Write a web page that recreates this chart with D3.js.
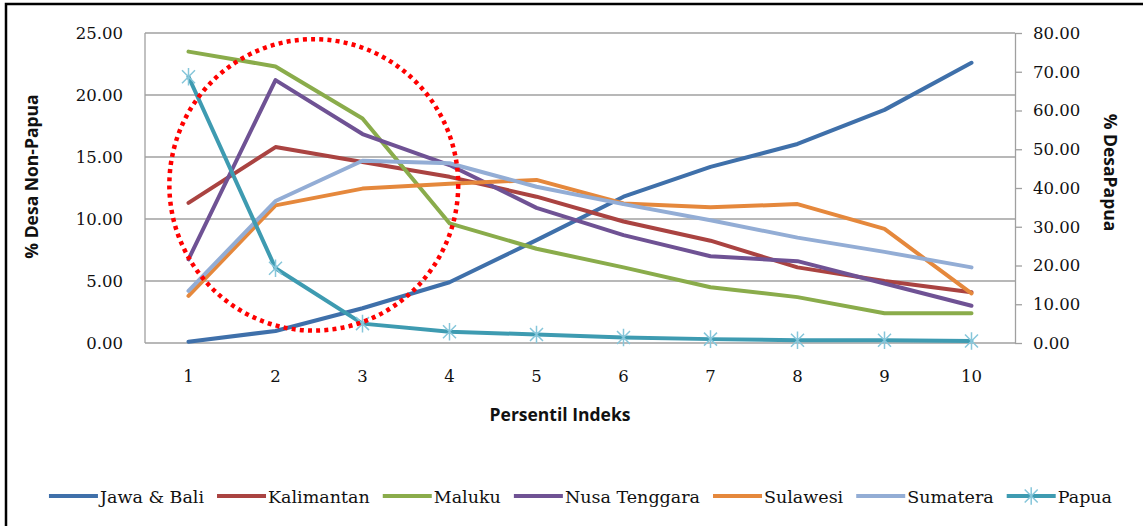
<!DOCTYPE html>
<html><head><meta charset="utf-8">
<script src="https://cdn.jsdelivr.net/npm/d3@7"></script>
<style>body{margin:0;background:#fff}svg{display:block}</style>
</head><body>
<svg id="chart" width="1143" height="526"></svg>
<script>
const categories = [1,2,3,4,5,6,7,8,9,10];
const jawaBali     = [0.1, 0.97, 2.8, 4.9, 8.3, 11.8, 14.2, 16.05, 18.8, 22.6];
const kalimantan   = [11.3, 15.8, 14.6, 13.4, 11.8, 9.8, 8.25, 6.1, 5.0, 4.1];
const maluku       = [23.5, 22.3, 18.1, 9.65, 7.6, 6.1, 4.5, 3.7, 2.4, 2.4];
const nusaTenggara = [6.75, 21.2, 16.85, 14.35, 10.9, 8.7, 7.0, 6.6, 4.8, 3.0];
const sulawesi     = [3.8, 11.1, 12.45, 12.85, 13.15, 11.25, 10.95, 11.2, 9.2, 4.0];
const sumatera     = [4.2, 11.45, 14.7, 14.5, 12.6, 11.2, 9.9, 8.5, 7.35, 6.1];
const papua        = [68.7, 19.3, 5.0, 2.9, 2.2, 1.4, 1.0, 0.7, 0.7, 0.5];
const leftTicks  = [0, 5, 10, 15, 20, 25];
const rightTicks = [0, 10, 20, 30, 40, 50, 60, 70, 80];
const seriesNames  = ["Jawa & Bali","Kalimantan","Maluku","Nusa Tenggara","Sulawesi","Sumatera","Papua"];
const seriesValues = [jawaBali, kalimantan, maluku, nusaTenggara, sulawesi, sumatera, papua];
const seriesColors = ["#3f70aa","#aa4341","#8aac4b","#6f5294","#e5883c","#93add5","#3e9bb1"];
const seriesAxis   = ["left","left","left","left","left","left","right"];
// annotation ellipse in data units (category, left-axis value)
const highlight = {cx: 2.44, cy: 12.75, rx: 1.66, ry: 11.75};

const svg = d3.select("#chart");
const m = {left:145, right:1015, top:33, bottom:343};

// frame
svg.append("path").attr("d","M6,526 V4 H1143").attr("fill","none").attr("stroke","#000").attr("stroke-width",2.5);

const x = d3.scaleBand().domain(categories).range([m.left, m.right]);
const xc = d => x(d) + x.bandwidth()/2;
const xl = d3.scaleLinear().domain([0.5, 10.5]).range([m.left, m.right]);
const yL = d3.scaleLinear().domain([0,25]).range([m.bottom, m.top]);
const yR = d3.scaleLinear().domain([0,80]).range([m.bottom, m.top]);

// gridlines
svg.append("g").selectAll("line").data(leftTicks).join("line")
  .attr("x1", m.left).attr("x2", m.right)
  .attr("y1", d=>yL(d)).attr("y2", d=>yL(d))
  .attr("stroke","#a0a0a0").attr("stroke-width",1.3);
// left axis line
svg.append("line").attr("x1",m.left).attr("x2",m.left).attr("y1",m.top).attr("y2",m.bottom).attr("stroke","#a0a0a0").attr("stroke-width",1.3);

const tickFont = "'DejaVu Serif', serif";
// left axis
const gL = svg.append("g").attr("transform",`translate(${m.left},0)`)
  .call(d3.axisLeft(yL).tickValues(leftTicks).tickFormat(d3.format(".2f")).tickSize(0).tickPadding(22));
gL.select(".domain").remove();
gL.selectAll("text").attr("font-family",tickFont).attr("font-size",16.5).attr("fill","#111");

// right axis
const gR = svg.append("g").attr("transform",`translate(${m.right},0)`)
  .call(d3.axisRight(yR).tickValues(rightTicks).tickFormat(d3.format(".2f")).tickSize(7).tickSizeOuter(0).tickPadding(11));
gR.select(".domain").attr("stroke","#a0a0a0").attr("stroke-width",1.3);
gR.selectAll(".tick line").attr("stroke","#a0a0a0").attr("stroke-width",1.3);
gR.selectAll("text").attr("font-family",tickFont).attr("font-size",16.5).attr("fill","#111");

// x axis
const gX = svg.append("g").attr("transform",`translate(0,${m.bottom})`)
  .call(d3.axisBottom(x).tickSize(0).tickPadding(27));
gX.select(".domain").remove();
gX.selectAll("text").attr("font-family",tickFont).attr("font-size",16.5).attr("fill","#111");

// axis titles
const titleFont = "'Open Sans', sans-serif";
svg.append("text").attr("transform",`translate(38,176.5) rotate(-90)`).attr("text-anchor","middle")
  .attr("font-family",titleFont).attr("font-weight","bold").attr("font-size",17.5).attr("fill","#111").text("% Desa Non-Papua");
svg.append("text").attr("transform",`translate(1104,172.5) rotate(90)`).attr("text-anchor","middle")
  .attr("font-family",titleFont).attr("font-weight","bold").attr("font-size",17.5).attr("fill","#111").text("% DesaPapua");
svg.append("text").attr("x",560).attr("y",421).attr("text-anchor","middle")
  .attr("font-family",titleFont).attr("font-weight","bold").attr("font-size",17.5).attr("fill","#111").text("Persentil Indeks");

// lines
const starPath = s => `M${-s},${-s}L${s},${s}M${-s},${s}L${s},${-s}M0,${-s*1.35}L0,${s*1.35}`;
seriesValues.forEach((vals,i)=>{
  const yS = seriesAxis[i]==="left" ? yL : yR;
  const line = d3.line().x((d,j)=>xc(categories[j])).y(d=>yS(d));
  svg.append("path").datum(vals).attr("d",line).attr("fill","none")
    .attr("stroke",seriesColors[i]).attr("stroke-width",4).attr("stroke-linejoin","round").attr("stroke-linecap","round");
  if (seriesNames[i]==="Papua") {
    svg.append("g").selectAll("path").data(vals).join("path")
      .attr("transform",(d,j)=>`translate(${xc(categories[j])},${yS(d)})`)
      .attr("d",starPath(6.5)).attr("stroke","#86c6da").attr("stroke-width",1.5).attr("fill","none");
  }
});

// highlight ellipse
svg.append("ellipse")
  .attr("cx", xl(highlight.cx)).attr("cy", yL(highlight.cy))
  .attr("rx", xl(highlight.cx+highlight.rx)-xl(highlight.cx))
  .attr("ry", yL(0)-yL(highlight.ry))
  .attr("fill","none").attr("stroke","#ff0000").attr("stroke-width",4.5).attr("stroke-dasharray","4,4.2");

// legend
const lg = svg.append("g");
const legFont = "'DejaVu Serif', serif";
const lineLen = 49, textGap = 2, itemGap = 13;
let cursor = 0;
seriesNames.forEach((n,i)=>{
  const g = lg.append("g").attr("transform",`translate(${cursor},0)`);
  g.append("line").attr("x1",0).attr("x2",lineLen).attr("y1",0).attr("y2",0).attr("stroke",seriesColors[i]).attr("stroke-width",4);
  if (n==="Papua") g.append("path").attr("transform",`translate(${lineLen/2},0)`).attr("d",starPath(6.5)).attr("stroke","#86c6da").attr("stroke-width",1.5);
  const t = g.append("text").attr("x",lineLen+textGap).attr("y",6.5).attr("font-family",legFont).attr("font-size",17.5).attr("fill","#111").text(n);
  cursor += lineLen + textGap + t.node().getComputedTextLength() + itemGap;
});
const total = cursor - itemGap;
lg.attr("transform",`translate(${580.5 - total/2},496)`);
</script>
</body></html>
